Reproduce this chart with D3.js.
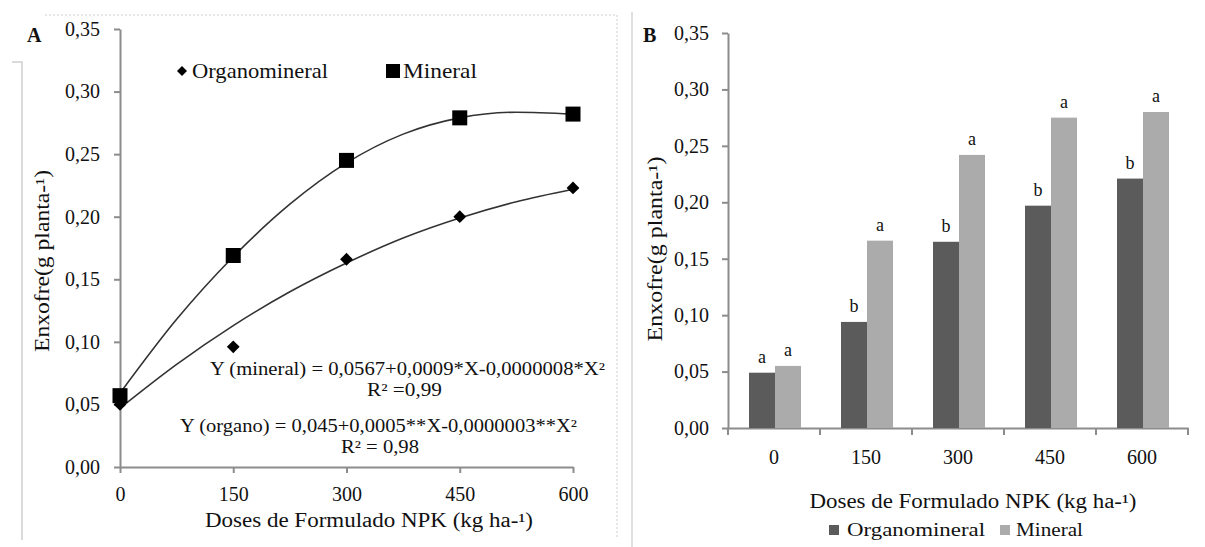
<!DOCTYPE html>
<html>
<head>
<meta charset="utf-8">
<script src="https://cdn.jsdelivr.net/npm/d3@7"></script>
<style>
  body { margin: 0; background: #fff; }
  svg text { font-family: "Liberation Serif", "Times New Roman", serif; fill: #111; }
</style>
</head>
<body>
<svg id="chart" width="1205" height="547"></svg>
<script>
// data
const doses = [0, 150, 300, 450, 600];
const organoValues = [0.050, 0.096, 0.166, 0.200, 0.223];
const mineralValues = [0.057, 0.169, 0.245, 0.279, 0.282];

// trend lines
const curveDoses = [0, 75, 150, 225, 300, 375, 450, 525, 600];
const mineralCurve = [0.059, 0.118, 0.168, 0.210, 0.243, 0.266, 0.279, 0.2835, 0.282];
const organoCurve = [0.047, 0.082, 0.113, 0.140, 0.163, 0.183, 0.199, 0.212, 0.222];

// panel B
const barCategories = ['0', '150', '300', '450', '600'];
const barOrgano = [0.049, 0.094, 0.165, 0.197, 0.221];
const barMineral = [0.055, 0.166, 0.242, 0.275, 0.280];
const lettersOrgano = ['a', 'b', 'b', 'b', 'b'];
const lettersMineral = ['a', 'a', 'a', 'a', 'a'];
const seriesNames = ['Organomineral', 'Mineral'];
const yTicks = [0, 0.05, 0.10, 0.15, 0.20, 0.25, 0.30, 0.35];

const svg = d3.select('#chart');
const fmt = d => d3.format('.2f')(d).replace('.', ',');
const axisColor = '#8c8c8c';

function styleAxis(g) {
  g.select('.domain').attr('stroke', axisColor).attr('stroke-width', 2);
  g.selectAll('.tick line').attr('stroke', axisColor).attr('stroke-width', 2);
  g.selectAll('.tick text')
    .style('font-family', '"Liberation Serif", serif')
    .style('font-size', '20px')
    .attr('fill', '#111');
}

// ---------- panel frames ----------
const frames = svg.append('g').attr('fill', 'none');
frames.append('path')
  .attr('d', 'M12,62 H22 V540')
  .attr('stroke', '#d0d0d0').attr('stroke-width', 1.5);
frames.append('path')
  .attr('d', 'M45,15 H617 V538')
  .attr('stroke', '#cfcfcf').attr('stroke-width', 1)
  .attr('stroke-dasharray', '2,2');
frames.append('line')
  .attr('x1', 632).attr('x2', 632).attr('y1', 12).attr('y2', 547)
  .attr('stroke', '#d6d6d6').attr('stroke-width', 1.5);

// ---------- panel A ----------
const xA = d3.scaleLinear().domain([0, 600]).range([120, 573]);
const yA = d3.scaleLinear().domain([0, 0.35]).range([467, 29]);

const gA = svg.append('g');

gA.append('g')
  .attr('transform', `translate(${xA(0)},0)`)
  .call(d3.axisLeft(yA).tickValues(yTicks).tickFormat(fmt).tickSize(6).tickSizeOuter(0).tickPadding(14))
  .call(styleAxis);

gA.append('g')
  .attr('transform', `translate(0,${yA(0)})`)
  .call(d3.axisBottom(xA).tickValues(doses).tickSize(6).tickSizeOuter(0).tickPadding(14))
  .call(styleAxis);

gA.append('text')
  .attr('x', 27).attr('y', 42)
  .style('font-size', '20px').style('font-weight', 'bold')
  .text('A');

gA.append('text')
  .attr('transform', `translate(49,261) rotate(-90)`)
  .attr('text-anchor', 'middle')
  .style('font-size', '20px')
  .attr('textLength', 182).attr('lengthAdjust', 'spacingAndGlyphs')
  .text('Enxofre(g planta-¹)');

gA.append('text')
  .attr('x', 369).attr('y', 527)
  .attr('text-anchor', 'middle')
  .style('font-size', '20px')
  .attr('textLength', 328).attr('lengthAdjust', 'spacingAndGlyphs')
  .text('Doses de Formulado NPK (kg  ha-¹)');

const line = d3.line()
  .x((d, i) => xA(curveDoses[i]))
  .y(d => yA(d))
  .curve(d3.curveMonotoneX);

gA.append('path').datum(mineralCurve)
  .attr('d', line).attr('fill', 'none')
  .attr('stroke', '#333').attr('stroke-width', 1.6);
gA.append('path').datum(organoCurve)
  .attr('d', line).attr('fill', 'none')
  .attr('stroke', '#333').attr('stroke-width', 1.6);

gA.selectAll('.pt-organo')
  .data(organoValues)
  .join('path')
  .attr('class', 'pt-organo')
  .attr('d', d3.symbol().type(d3.symbolSquare).size(82))
  .attr('transform', (d, i) => `translate(${xA(doses[i])},${yA(d)}) rotate(45)`)
  .attr('fill', '#000');

gA.selectAll('.pt-mineral')
  .data(mineralValues)
  .join('rect')
  .attr('class', 'pt-mineral')
  .attr('x', (d, i) => xA(doses[i]) - 7.5)
  .attr('y', d => yA(d) - 7.5)
  .attr('width', 15).attr('height', 15)
  .attr('fill', '#000');

// legend A
const legA = gA.append('g');
legA.append('path')
  .attr('d', d3.symbol().type(d3.symbolSquare).size(50))
  .attr('transform', 'translate(182,71) rotate(45)')
  .attr('fill', '#000');
legA.append('text')
  .attr('x', 192).attr('y', 78)
  .style('font-size', '21px')
  .attr('textLength', 136).attr('lengthAdjust', 'spacingAndGlyphs')
  .text(seriesNames[0]);
legA.append('rect')
  .attr('x', 386).attr('y', 64).attr('width', 14).attr('height', 14)
  .attr('fill', '#000');
legA.append('text')
  .attr('x', 403).attr('y', 78)
  .style('font-size', '21px')
  .attr('textLength', 74).attr('lengthAdjust', 'spacingAndGlyphs')
  .text(seriesNames[1]);

// equations
const eq = gA.append('g').style('font-size', '18px');
eq.append('text').attr('x', 210).attr('y', 375)
  .attr('textLength', 395).attr('lengthAdjust', 'spacingAndGlyphs')
  .text('Y (mineral) =  0,0567+0,0009*X-0,0000008*X²');
eq.append('text').attr('x', 367).attr('y', 396)
  .attr('textLength', 75).attr('lengthAdjust', 'spacingAndGlyphs')
  .text('R² =0,99');
eq.append('text').attr('x', 180).attr('y', 432)
  .attr('textLength', 397).attr('lengthAdjust', 'spacingAndGlyphs')
  .text('Y (organo) =  0,045+0,0005**X-0,0000003**X²');
eq.append('text').attr('x', 341).attr('y', 453)
  .attr('textLength', 78).attr('lengthAdjust', 'spacingAndGlyphs')
  .text('R² = 0,98');

// ---------- panel B ----------
const xB = d3.scaleBand().domain(barCategories).range([728, 1188]);
const xInner = d3.scaleBand().domain(seriesNames).range([21, 73]);
const yB = d3.scaleLinear().domain([0, 0.35]).range([428, 33]);
const colors = { Organomineral: '#5b5b5b', Mineral: '#ababab' };

const gB = svg.append('g');

gB.append('g')
  .attr('transform', `translate(${xB.range()[0]},0)`)
  .call(d3.axisLeft(yB).tickValues(yTicks).tickFormat(fmt).tickSize(6).tickSizeOuter(0).tickPadding(13))
  .call(styleAxis);

const xAxisB = gB.append('g')
  .attr('transform', `translate(0,${yB(0)})`)
  .call(d3.axisBottom(xB).tickSize(0).tickPadding(22))
  .call(styleAxis);
// category boundary ticks
xAxisB.selectAll('.bound')
  .data(barCategories.concat(['end']))
  .join('line')
  .attr('class', 'bound')
  .attr('x1', (d, i) => xB.range()[0] + i * xB.bandwidth())
  .attr('x2', (d, i) => xB.range()[0] + i * xB.bandwidth())
  .attr('y1', 0).attr('y2', 7)
  .attr('stroke', axisColor).attr('stroke-width', 2);

const rows = barCategories.map((c, i) => ({
  cat: c,
  values: [
    { key: seriesNames[0], value: barOrgano[i], letter: lettersOrgano[i] },
    { key: seriesNames[1], value: barMineral[i], letter: lettersMineral[i] }
  ]
}));

const groups = gB.selectAll('.grp')
  .data(rows)
  .join('g')
  .attr('class', 'grp')
  .attr('transform', d => `translate(${xB(d.cat)},0)`);

groups.selectAll('rect')
  .data(d => d.values)
  .join('rect')
  .attr('x', d => xInner(d.key))
  .attr('y', d => yB(d.value))
  .attr('width', xInner.bandwidth())
  .attr('height', d => yB(0) - yB(d.value))
  .attr('fill', d => colors[d.key]);

groups.selectAll('text')
  .data(d => d.values)
  .join('text')
  .attr('x', d => xInner(d.key) + xInner.bandwidth() / 2)
  .attr('y', d => yB(d.value) - 10)
  .attr('text-anchor', 'middle')
  .style('font-size', '18px')
  .text(d => d.letter);

gB.append('text')
  .attr('x', 643).attr('y', 42)
  .style('font-size', '20px').style('font-weight', 'bold')
  .text('B');

gB.append('text')
  .attr('transform', `translate(662,249) rotate(-90)`)
  .attr('text-anchor', 'middle')
  .style('font-size', '20px')
  .attr('textLength', 185).attr('lengthAdjust', 'spacingAndGlyphs')
  .text('Enxofre(g planta-¹)');

gB.append('text')
  .attr('x', 973).attr('y', 508)
  .attr('text-anchor', 'middle')
  .style('font-size', '20px')
  .attr('textLength', 327).attr('lengthAdjust', 'spacingAndGlyphs')
  .text('Doses de Formulado NPK  (kg  ha-¹)');

// legend B
const legB = gB.append('g');
const legItems = [
  { name: seriesNames[0], sx: 829, tx: 847, w: 138 },
  { name: seriesNames[1], sx: 1000, tx: 1016, w: 67 }
];
legB.selectAll('rect')
  .data(legItems)
  .join('rect')
  .attr('x', d => d.sx).attr('y', 525)
  .attr('width', 10).attr('height', 10)
  .attr('fill', d => colors[d.name]);
legB.selectAll('text')
  .data(legItems)
  .join('text')
  .attr('x', d => d.tx).attr('y', 536)
  .style('font-size', '19px')
  .attr('textLength', d => d.w).attr('lengthAdjust', 'spacingAndGlyphs')
  .text(d => d.name);
</script>
</body>
</html>
